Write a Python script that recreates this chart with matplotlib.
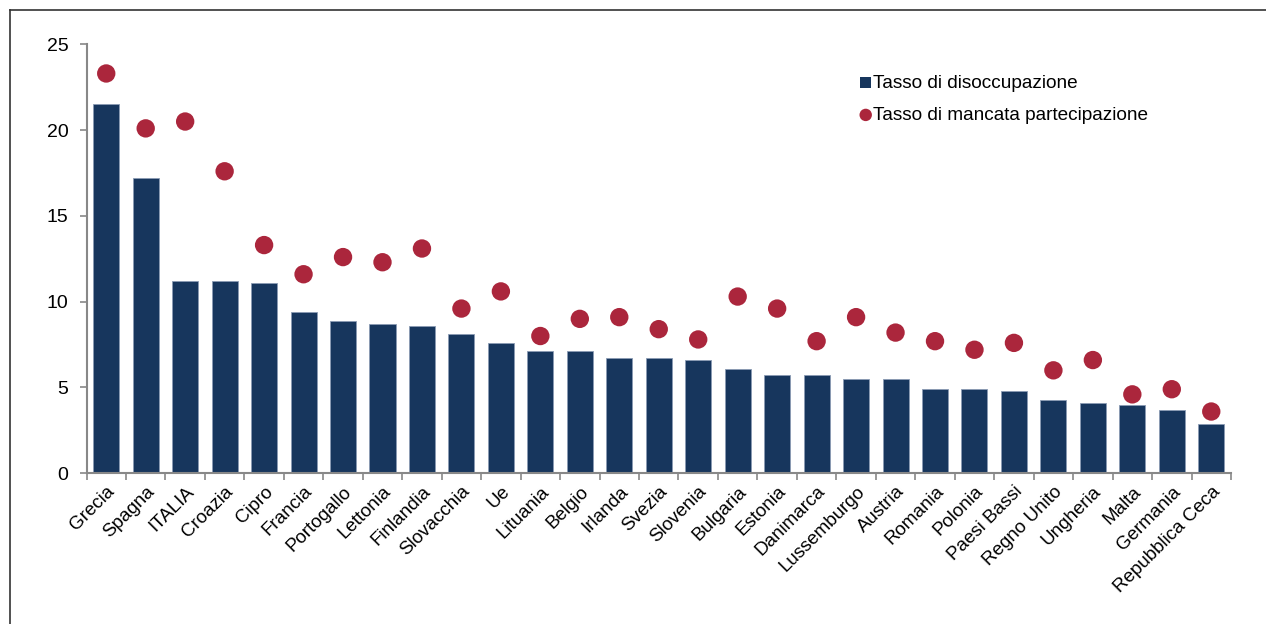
import matplotlib
matplotlib.use("Agg")
import matplotlib.pyplot as plt
from matplotlib.lines import Line2D
import numpy as np

plt.rcParams['font.family'] = ['Liberation Sans', 'DejaVu Sans']

paesi = ["Grecia", "Spagna", "ITALIA", "Croazia", "Cipro", "Francia", "Portogallo",
         "Lettonia", "Finlandia", "Slovacchia", "Ue", "Lituania", "Belgio", "Irlanda",
         "Svezia", "Slovenia", "Bulgaria", "Estonia", "Danimarca", "Lussemburgo",
         "Austria", "Romania", "Polonia", "Paesi Bassi", "Regno Unito", "Ungheria",
         "Malta", "Germania", "Repubblica Ceca"]
disoccupazione = [21.5, 17.2, 11.2, 11.2, 11.1, 9.4, 8.9, 8.7, 8.6, 8.1, 7.6, 7.1, 7.1,
                  6.7, 6.7, 6.6, 6.1, 5.7, 5.7, 5.5, 5.5, 4.9, 4.9, 4.8, 4.3, 4.1,
                  4.0, 3.7, 2.9]
mancata_partecipazione = [23.3, 20.1, 20.5, 17.6, 13.3, 11.6, 12.6, 12.3, 13.1, 9.6,
                          10.6, 8.0, 9.0, 9.1, 8.4, 7.8, 10.3, 9.6, 7.7, 9.1, 8.2,
                          7.7, 7.2, 7.6, 6.0, 6.6, 4.6, 4.9, 3.6]
y_ticks = [0, 5, 10, 15, 20, 25]

W, H = 1266, 624
fig = plt.figure(figsize=(W / 100, H / 100), dpi=100)
ax = fig.add_axes([86.5 / W, 1 - 473.3 / H, (1231 - 86.5) / W, (473.3 - 44.3) / H])

x = np.arange(len(paesi))
bars = ax.bar(x, disoccupazione, width=0.66, color="#17365d", edgecolor="#8a9bb4",
              linewidth=0.6, label="Tasso di disoccupazione", zorder=2)
pts = ax.scatter(x, mancata_partecipazione, s=175, color="#ab263c", edgecolor="none",
                 label="Tasso di mancata partecipazione", zorder=3)

ax.set_xlim(-0.5, len(paesi) - 0.5)
ax.set_ylim(0, 25)
ax.set_yticks(y_ticks)
ax.set_yticklabels([str(t) for t in y_ticks], fontsize=14)
ax.set_xticks(x)
ax.set_xticklabels(paesi, rotation=45, ha="right", rotation_mode="anchor", fontsize=13.5)
ax.tick_params(axis="x", which="major", length=0, pad=7)
ax.set_xticks(np.arange(-0.5, len(paesi), 1), minor=True)
ax.tick_params(axis="x", which="minor", length=5, color="#888888", width=1.2)
ax.tick_params(axis="y", length=5, color="#888888", width=1.2, pad=8)

for s in ["top", "right"]:
    ax.spines[s].set_visible(False)
for s in ["left", "bottom"]:
    ax.spines[s].set_color("#888888")
    ax.spines[s].set_linewidth(1.5)

leg = ax.legend([bars, pts], ["Tasso di disoccupazione", "Tasso di mancata partecipazione"],
                loc="upper left", bbox_to_anchor=(860 / W, 1 - 75 / H),
                bbox_transform=fig.transFigure, frameon=False, fontsize=13.7,
                handlelength=0.6, handletextpad=0.1, labelspacing=0.75,
                borderpad=0, borderaxespad=0)
for h in leg.legend_handles:
    try:
        h.set_sizes([80])
    except AttributeError:
        h.set_edgecolor("none")
        h.set_width(8)
        h.set_height(8)

fig.add_artist(Line2D([10 / W, 1], [1 - 10 / H, 1 - 10 / H], color="#333333", linewidth=1.2,
                      transform=fig.transFigure))
fig.add_artist(Line2D([10 / W, 10 / W], [1 - 10 / H, 0], color="#333333", linewidth=1.2,
                      transform=fig.transFigure))

fig.savefig("out.png", dpi=100)
